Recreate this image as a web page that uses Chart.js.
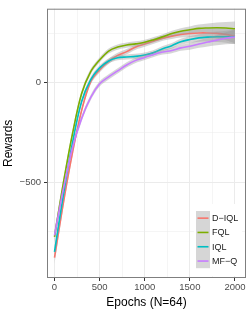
<!DOCTYPE html>
<html>
<head>
<meta charset="utf-8">
<script src="https://cdn.jsdelivr.net/npm/chart.js@4.4.1/dist/chart.umd.min.js"></script>
<style>
  html, body { margin: 0; padding: 0; background: #ffffff; }
  #wrap { width: 249px; height: 312px; position: relative; }
</style>
</head>
<body>
<div id="wrap"><canvas id="myLineChart"></canvas></div>
<script>
// data
const epochs = [0, 100, 200, 300, 400, 500, 600, 700, 800, 900, 1000, 1100, 1200, 1300, 1400, 1500, 1600, 1700, 1800, 1900, 2000];
const dIQL = [-880, -600, -350, -140, 5, 65, 108, 138, 157, 180, 195, 210, 225, 235, 243, 248, 251, 251, 249, 244, 234];
const fql = [-775, -500, -255, -55, 55, 115, 160, 180, 190, 196, 204, 217, 232, 248, 260, 267, 274, 276, 277, 276, 272];
const iql = [-850, -560, -300, -95, 15, 75, 110, 126, 130, 133, 140, 152, 172, 187, 207, 218, 226, 230, 232, 232, 231];
const mfq = [-768, -530, -325, -180, -75, -5, 30, 60, 90, 113, 128, 143, 155, 163, 176, 184, 195, 205, 215, 224, 231];
// half width of the grey confidence ribbon
const band = [30, 22, 18, 15, 14, 13, 13, 13, 13, 13, 13, 13, 13, 14, 15, 17, 19, 22, 26, 30, 36];

const seriesNames = ['D\u2212IQL', 'FQL', 'IQL', 'MF\u2212Q'];
const seriesValues = [dIQL, fql, iql, mfq];
const seriesColors = ['#F8766D', '#7CAE00', '#00BFC4', '#C77CFF'];

const xTicks = [0, 250, 500, 750, 1000, 1250, 1500, 1750, 2000];
const yTicks = [-750, -500, -250, 0, 250];

const FONT = '"Liberation Sans", Arial, sans-serif';

const buildPoints = (values, offset, sign) => {
  let pts = [];
  for (let i = 0; i < epochs.length; i++) {
    pts.push({ x: epochs[i], y: values[i] + sign * offset[i] });
  }
  return pts;
}

const buildDatasets = () => {
  let ds = [];
  seriesValues.forEach((vals, k) => {
    // ribbon: lower edge then upper edge filled down to it
    ds.push({
      label: '_lo' + k,
      data: buildPoints(vals, band, -1),
      borderWidth: 0,
      pointRadius: 0,
      fill: false,
      tension: 0.35,
      order: 20 - k * 2
    });
    ds.push({
      label: '_hi' + k,
      data: buildPoints(vals, band, 1),
      borderWidth: 0,
      pointRadius: 0,
      fill: '-1',
      backgroundColor: 'rgba(153,153,153,0.4)',
      tension: 0.35,
      order: 19 - k * 2
    });
    ds.push({
      label: seriesNames[k],
      data: buildPoints(vals, band, 0),
      borderColor: seriesColors[k],
      borderWidth: 1.6,
      pointRadius: 0,
      fill: false,
      tension: 0.35,
      order: 18 - k * 2
    });
  });
  return ds;
}

// panel border + legend drawn over the panel (bottom right)
const panelPlugin = {
  id: 'panel',
  afterDatasetsDraw(chart) {
    const ctx = chart.ctx;
    const a = chart.chartArea;
    ctx.save();

    // legend box
    const lx = a.right - 52, ly = a.bottom - 74;
    ctx.fillStyle = '#ffffff';
    ctx.fillRect(lx, ly, 48, 72);
    const keyX = lx + 2, keyY = ly + 7, step = 14.3;
    ctx.fillStyle = '#d6d6d6';
    ctx.fillRect(keyX, keyY, 14, step * 4);
    seriesNames.forEach((name, k) => {
      const cy = keyY + step * (k + 0.5);
      ctx.strokeStyle = seriesColors[k];
      ctx.lineWidth = 1.6;
      ctx.beginPath();
      ctx.moveTo(keyX + 1.5, cy);
      ctx.lineTo(keyX + 12.5, cy);
      ctx.stroke();
      ctx.fillStyle = '#1a1a1a';
      ctx.font = '9px ' + FONT;
      ctx.textBaseline = 'middle';
      ctx.fillText(name, keyX + 16, cy + 0.5);
    });

    ctx.strokeStyle = '#7f7f7f';
    ctx.lineWidth = 1;
    ctx.strokeRect(a.left + 0.5, a.top + 0.5, a.right - a.left - 1, a.bottom - a.top - 1);
    ctx.restore();
  }
};

const buildLineChart = () => {
  var ctx = document.getElementById('myLineChart').getContext('2d');
  var myLineChart = new Chart(ctx, {
    type: 'line',
    data: { datasets: buildDatasets() },
    plugins: [panelPlugin],
    options: {
      responsive: true,
      maintainAspectRatio: false,
      animation: false,
      events: [],
      layout: { padding: { top: 5, right: 3, left: 0, bottom: 0 } },
      plugins: {
        legend: { display: false },
        tooltip: { enabled: false }
      },
      scales: {
        x: {
          type: 'linear',
          min: -83,
          max: 2122,
          afterBuildTicks: (scale) => { scale.ticks = xTicks.map(v => ({ value: v })); },
          afterFit: (scale) => { scale.height = 34; },
          border: { display: false },
          grid: {
            color: '#ebebeb',
            lineWidth: (c) => (c.tick && c.tick.value % 500 === 0) ? 1 : 0.5,
            tickColor: (c) => (c.tick && c.tick.value % 500 === 0) ? '#333333' : 'rgba(0,0,0,0)',
            tickLength: 3
          },
          ticks: {
            autoSkip: false,
            maxRotation: 0,
            padding: 1,
            color: '#4d4d4d',
            font: { family: FONT, size: 9.5 },
            callback: (v) => v % 500 === 0 ? String(v) : ''
          },
          title: {
            display: true,
            text: 'Epochs (N=64)',
            color: '#000000',
            font: { family: FONT, size: 12 },
            padding: { top: 0, bottom: 2 }
          }
        },
        y: {
          min: -982,
          max: 373,
          afterBuildTicks: (scale) => { scale.ticks = yTicks.map(v => ({ value: v })); },
          afterFit: (scale) => { scale.width = 47; },
          border: { display: false },
          grid: {
            color: '#ebebeb',
            lineWidth: (c) => (c.tick && c.tick.value % 500 === 0) ? 1 : 0.5,
            tickColor: (c) => (c.tick && c.tick.value % 500 === 0) ? '#333333' : 'rgba(0,0,0,0)',
            tickLength: 3
          },
          ticks: {
            autoSkip: false,
            padding: 3,
            color: '#4d4d4d',
            font: { family: FONT, size: 9.5 },
            callback: (v) => v % 500 === 0 ? String(v).replace('-', '\u2212') : ''
          },
          title: {
            display: true,
            text: 'Rewards',
            color: '#000000',
            font: { family: FONT, size: 12 },
            padding: { top: 1, bottom: 0 }
          }
        }
      }
    }
  });
}

buildLineChart();
</script>
</body>
</html>
